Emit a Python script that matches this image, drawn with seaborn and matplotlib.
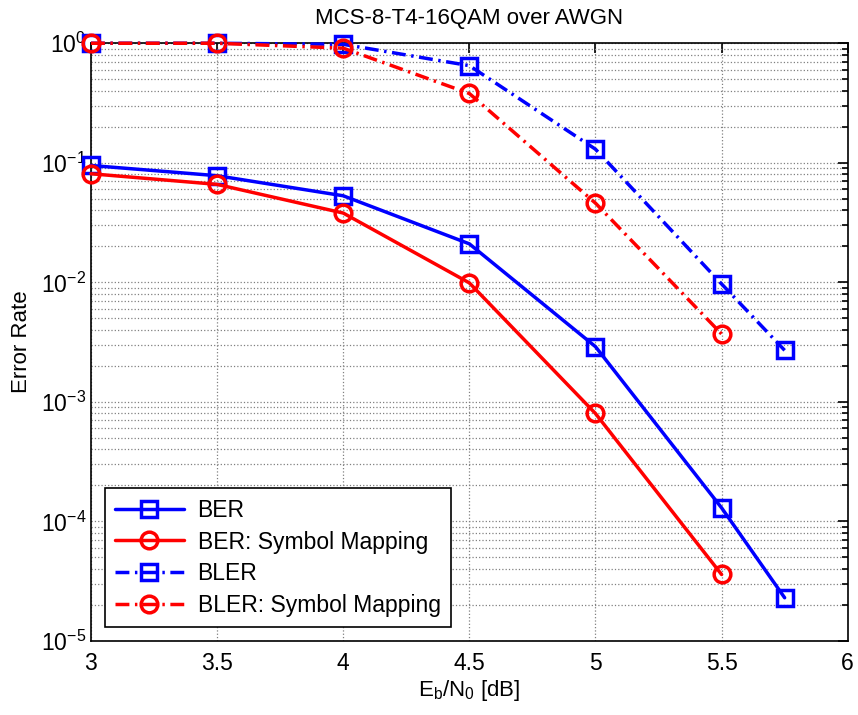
import matplotlib
matplotlib.use("Agg")
import matplotlib.pyplot as plt
import matplotlib.ticker as mticker
import seaborn as sns

# Eb/N0 points [dB]
ebn0_full = [3.0, 3.5, 4.0, 4.5, 5.0, 5.5, 5.75]
ebn0_sm = [3.0, 3.5, 4.0, 4.5, 5.0, 5.5]

ber = [0.095, 0.078, 0.053, 0.021, 0.0029, 1.3e-4, 2.3e-5]
ber_sm = [0.081, 0.066, 0.038, 0.0099, 8.0e-4, 3.6e-5]
bler = [1.0, 1.0, 0.98, 0.65, 0.13, 0.0097, 0.0027]
bler_sm = [1.0, 1.0, 0.91, 0.38, 0.046, 0.0037]

labels = ["BER", "BER: Symbol Mapping", "BLER", "BLER: Symbol Mapping"]

sns.set_style("white")
plt.rcParams["font.family"] = ["Liberation Sans", "DejaVu Sans"]
plt.rcParams["mathtext.fontset"] = "custom"
plt.rcParams["mathtext.rm"] = "Liberation Sans"
plt.rcParams["mathtext.it"] = "Liberation Sans:italic"
for key in ["text.color", "axes.labelcolor", "xtick.color", "ytick.color"]:
    plt.rcParams[key] = "black"

fig = plt.figure(figsize=(8.58, 7.15), dpi=100)
ax = fig.add_axes([0.106, 0.1035, 0.882, 0.836])

dashdot = (0, (4.0, 1.6, 0.7, 1.6))
series = [
    (ebn0_full, ber, "#0000ff", "s", "-"),
    (ebn0_sm, ber_sm, "#ff0000", "o", "-"),
    (ebn0_full, bler, "#0000ff", "s", dashdot),
    (ebn0_sm, bler_sm, "#ff0000", "o", dashdot),
]
for (xs, ys, col, mk, ls), lab in zip(series, labels):
    sns.lineplot(x=xs, y=ys, ax=ax, color=col, linestyle=ls, linewidth=2.5,
                 marker=mk, markersize=12, markerfacecolor="none",
                 markeredgecolor=col, markeredgewidth=2.5, label=lab,
                 clip_on=False, zorder=3)

ax.set_yscale("log")
ax.set_xlim(3, 6)
ax.set_ylim(1e-5, 1)
ax.set_xticks([3, 3.5, 4, 4.5, 5, 5.5, 6])
ax.xaxis.set_major_formatter(mticker.FormatStrFormatter("%g"))
ax.yaxis.set_major_locator(mticker.LogLocator(base=10, numticks=10))
ax.yaxis.set_minor_locator(mticker.LogLocator(base=10, subs=range(2, 10), numticks=20))
ax.yaxis.set_minor_formatter(mticker.NullFormatter())

ax.grid(True, which="major", color="#808080", linestyle=":", linewidth=0.9)
ax.grid(True, which="minor", axis="y", color="#808080", linestyle=":", linewidth=0.9)
ax.tick_params(which="both", direction="in", top=True, right=True, labelsize=16.5,
               width=1.2, color="black", labelcolor="black")
ax.tick_params(which="major", length=7)
ax.tick_params(which="minor", length=4)
ax.tick_params(axis="x", pad=8)
for s in ax.spines.values():
    s.set_color("black")
    s.set_linewidth(1.2)

ax.set_title("MCS-8-T4-16QAM over AWGN", fontsize=16, pad=14)
ax.set_xlabel(r"E$_\mathrm{b}$/N$_\mathrm{0}$ [dB]", fontsize=16, labelpad=2)
ax.set_ylabel("Error Rate", fontsize=16, labelpad=6)

leg = ax.legend(loc="lower left", fontsize=16.5, frameon=True, fancybox=False,
                edgecolor="black", framealpha=1, handlelength=3.0,
                borderaxespad=0.6, labelspacing=0.38, handletextpad=0.6,
                borderpad=0.45)
leg.get_frame().set_linewidth(1.2)
for t in leg.get_texts():
    t.set_color("black")

fig.savefig("out.png", dpi=100)
